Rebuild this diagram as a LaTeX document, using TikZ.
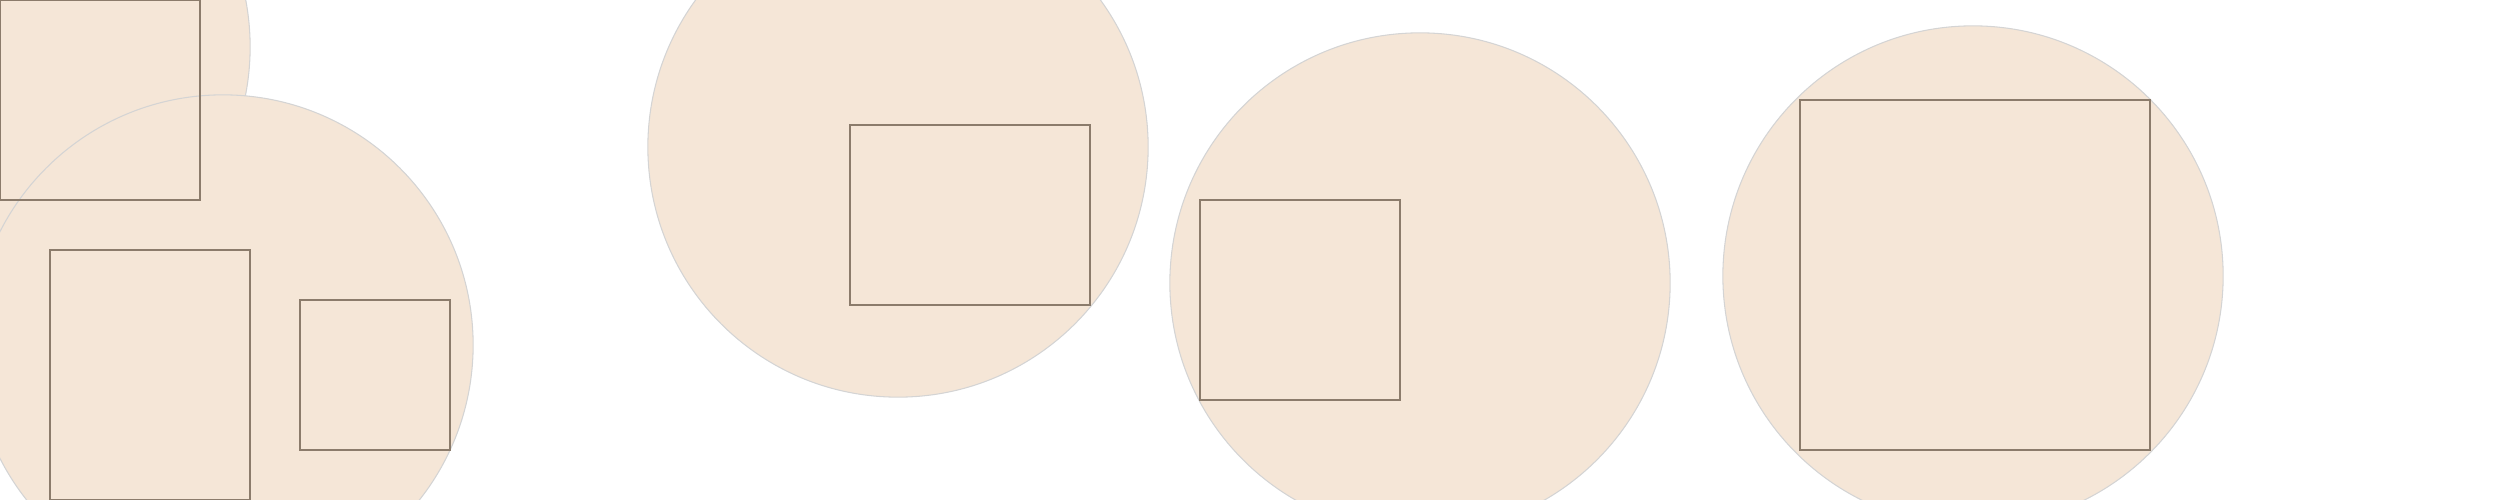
\documentclass[tikz,border=0pt]{standalone}
\usepackage{tikz}
\definecolor{discbg}{HTML}{F5E6D7}
\definecolor{discbd}{HTML}{D4D4D4}
\definecolor{panelbd}{HTML}{8B7B6B}
\tikzset{
  disc/.style={
    circle, draw=discbd, fill=discbg, line width=0.3pt,
    minimum size=5cm, inner sep=0pt, outer sep=0pt
  },
  panel/.style={
    draw=panelbd, line width=0.4pt, inner sep=0pt, outer sep=0pt
  }
}

\begin{document}
\begin{tikzpicture}[x=0.01cm, y=-0.01cm]
  \useasboundingbox (0,0) rectangle (2500,500);
  \clip (0,0) rectangle (2500,500);

  % discs
  \node[disc] (topdisc) at (0,47) {};
  \node[disc] (leftdisc) at (223,345) {};
  \node[disc] (middisc) at (898,147) {};
  \node[disc] (centdisc) at (1420,283) {};
  \node[disc] (rightdisc) at (1973,276) {};

  % panels
  \node[panel, minimum width=2cm, minimum height=2cm] (toppanel) at (100,100) {};
  \node[panel, minimum width=2cm, minimum height=2.5cm] (tallpanel) at (150,375) {};
  \node[panel, minimum width=1.5cm, minimum height=1.5cm] (smallpanel) at (375,375) {};
  \node[panel, minimum width=2.4cm, minimum height=1.8cm] (widepanel) at (970,215) {};
  \node[panel, minimum width=2cm, minimum height=2cm] (centpanel) at (1300,300) {};
  \node[panel, minimum width=3.5cm, minimum height=3.5cm] (bigpanel) at (1975,275) {};
\end{tikzpicture}
\end{document}
